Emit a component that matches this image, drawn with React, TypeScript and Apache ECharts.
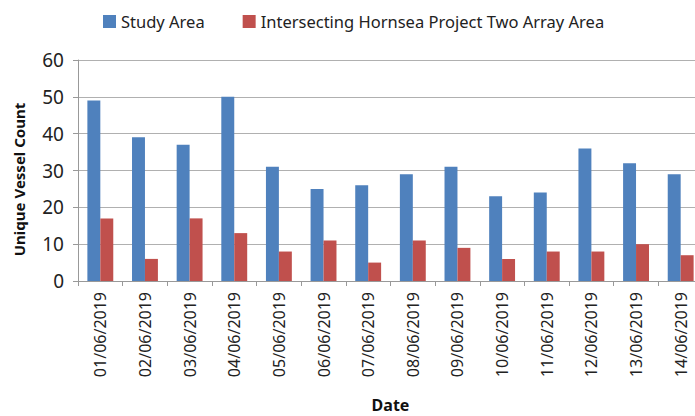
import React, { useEffect, useRef } from "react";
import * as echarts from "echarts";

const categories = [
  "01/06/2019", "02/06/2019", "03/06/2019", "04/06/2019", "05/06/2019", "06/06/2019", "07/06/2019",
  "08/06/2019", "09/06/2019", "10/06/2019", "11/06/2019", "12/06/2019", "13/06/2019", "14/06/2019",
];
const studyArea = [49, 39, 37, 50, 31, 25, 26, 29, 31, 23, 24, 36, 32, 29];
const hornsea = [17, 6, 17, 13, 8, 11, 5, 11, 9, 6, 8, 8, 10, 7];
const seriesNames = ["Study Area", "Intersecting Hornsea Project Two Array Area"];

export default function App() {
  const ref = useRef<HTMLDivElement>(null);
  useEffect(() => {
    const chart = echarts.init(ref.current!, null, { renderer: "svg" });
    const font = "'Noto Sans', 'Open Sans', sans-serif";
    chart.setOption({
      animation: false,
      textStyle: { fontFamily: font },
      legend: {
        top: 8,
        left: 98,
        itemWidth: 13,
        itemHeight: 13,
        itemGap: 38,
        icon: "rect",
        textStyle: { fontSize: 16.5, color: "#222", fontFamily: font },
        data: seriesNames,
      },
      grid: { left: 78, right: -8, top: 60, bottom: 135, containLabel: false, outerBoundsMode: "none" },
      xAxis: {
        type: "category",
        data: categories,
        name: "Date",
        nameLocation: "middle",
        nameGap: 116,
        nameTextStyle: { fontSize: 16, fontWeight: "bold", color: "#111", fontFamily: font },
        axisLine: { lineStyle: { color: "#999" } },
        axisTick: { show: true, length: 5, lineStyle: { color: "#999" } },
        axisLabel: { rotate: 90, fontSize: 16, color: "#222", margin: 11, interval: 0 },
      },
      yAxis: {
        type: "value",
        min: 0,
        max: 60,
        interval: 10,
        name: "Unique Vessel Count",
        nameLocation: "middle",
        nameGap: 52,
        nameTextStyle: { fontSize: 15, fontWeight: "bold", color: "#111", fontFamily: font, padding: [0, 18, 0, 0] },
        axisLine: { show: true, lineStyle: { color: "#999" } },
        axisTick: { show: true, length: 5, lineStyle: { color: "#999" } },
        axisLabel: { fontSize: 19, color: "#222", margin: 14 },
        splitLine: { lineStyle: { color: "#b0b0b0", width: 1 } },
      },
      series: [
        {
          name: seriesNames[0],
          type: "bar",
          data: studyArea,
          itemStyle: { color: "#4F81BD" },
          barGap: "0%",
          barCategoryGap: "42%",
        },
        {
          name: seriesNames[1],
          type: "bar",
          data: hornsea,
          itemStyle: { color: "#C0504D" },
          barGap: "0%",
          barCategoryGap: "42%",
        },
      ],
    });
    return () => chart.dispose();
  }, []);
  return <div ref={ref} style={{ width: 695, height: 416, position: "absolute", left: 0, top: 0 }} />;
}
